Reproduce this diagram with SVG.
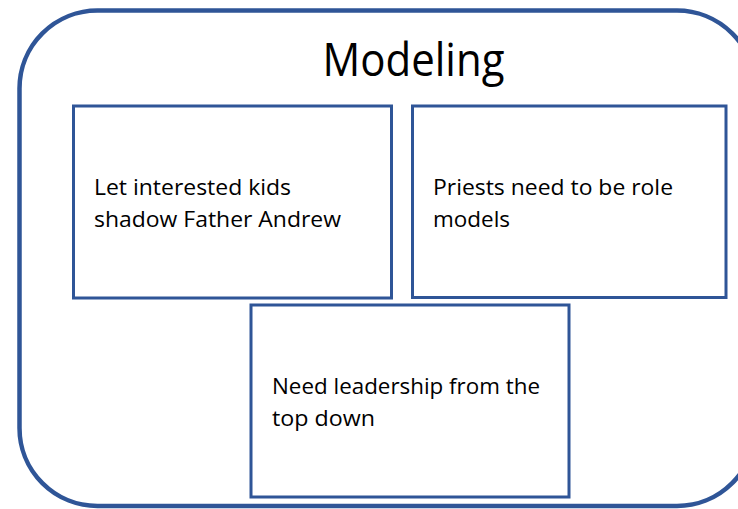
<svg xmlns="http://www.w3.org/2000/svg" width="738" height="509" viewBox="0 0 738 509">
<style>
.frame{fill:#ffffff;stroke:#2F5597;stroke-width:4.5}
.box{fill:#ffffff;stroke:#2F5597;stroke-width:3}
.t{font-family:"Open Sans","Liberation Sans",sans-serif;font-size:22.5px;fill:#000000}
.title{font-family:"Open Sans","Liberation Sans",sans-serif;font-size:45px;fill:#000000}
</style>
<rect width="738" height="509" fill="#ffffff"/>
<g id="modeling">
<rect class="frame" x="19.5" y="10.5" width="735.5" height="495.5" rx="78" ry="78"/>
<text class="title" x="322.5" y="76" textLength="182" lengthAdjust="spacingAndGlyphs">Modeling</text>
</g>
<g id="node-shadow">
<rect class="box" x="73.5" y="106" width="318" height="192"/>
<text class="t" x="94" y="195" textLength="197" lengthAdjust="spacingAndGlyphs">Let interested kids</text>
<text class="t" x="94" y="227" textLength="247" lengthAdjust="spacingAndGlyphs">shadow Father Andrew</text>
</g>
<g id="node-priests">
<rect class="box" x="412.5" y="106" width="313.5" height="191.5"/>
<text class="t" x="433" y="195" textLength="240" lengthAdjust="spacingAndGlyphs">Priests need to be role</text>
<text class="t" x="433" y="227" textLength="77" lengthAdjust="spacingAndGlyphs">models</text>
</g>
<g id="node-leadership">
<rect class="box" x="251" y="305" width="318" height="192"/>
<text class="t" x="272" y="394" textLength="268" lengthAdjust="spacingAndGlyphs">Need leadership from the</text>
<text class="t" x="272" y="426" textLength="103" lengthAdjust="spacingAndGlyphs">top down</text>
</g>
<g id="connectors"></g>
</svg>
